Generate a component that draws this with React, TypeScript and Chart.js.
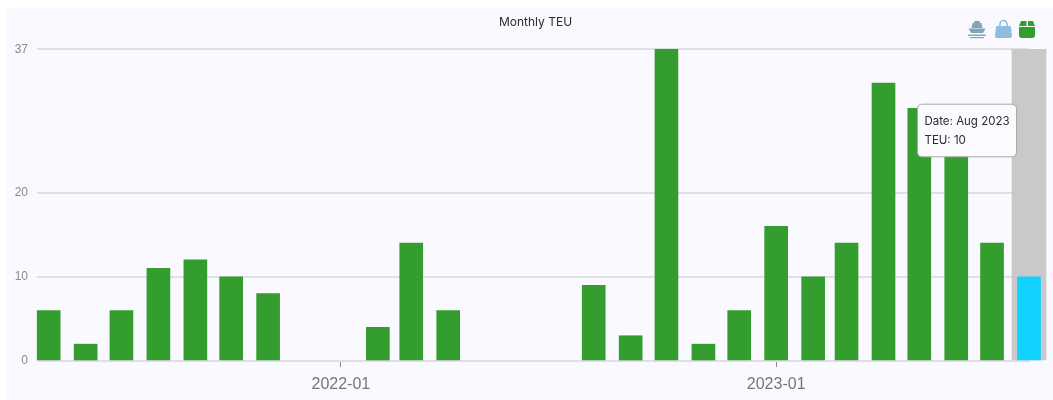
import React, { useEffect, useRef } from "react";
import { Chart, Tooltip, registerables } from "chart.js";

Chart.register(...registerables);

const months = [
  "2021-05-01", "2021-06-01", "2021-07-01", "2021-08-01", "2021-09-01", "2021-10-01", "2021-11-01",
  "2021-12-01", "2022-01-01", "2022-02-01", "2022-03-01", "2022-04-01", "2022-05-01", "2022-06-01",
  "2022-07-01", "2022-08-01", "2022-09-01", "2022-10-01", "2022-11-01", "2022-12-01", "2023-01-01",
  "2023-02-01", "2023-03-01", "2023-04-01", "2023-05-01", "2023-06-01", "2023-07-01", "2023-08-01",
];
const teu = [6, 2, 6, 11, 12, 10, 8, null, null, 4, 14, 6, null, null, null, 9, 3, 37, 2, 6, 16, 10, 14, 33, 30, 26, 14, 10];
const highlightMonth = ["2023-08-01"];
const highlightValue = [37];
const yTicks = [0, 10, 20, 37];
const xTicks = ["2022-01-01", "2023-01-01"];
const DAY = 86400000;
const ts = (s: string) => Date.parse(s + "T00:00:00Z");

(Tooltip.positioners as any).fixedBox = () => ({ x: 967, y: 130.5 });

const panel = {
  id: "panel",
  afterLayout(chart: any) {
    if (chart.titleBlock) chart.titleBlock.left += 5;
  },
  beforeDraw(chart: any) {
    const { ctx, width, height } = chart;
    ctx.save();
    ctx.fillStyle = "#ffffff";
    ctx.fillRect(0, 0, width, height);
    ctx.fillStyle = "#faf9ff";
    ctx.fillRect(6, 8, width - 6, height - 8);
    ctx.restore();
  },
};

export default function App() {
  const ref = useRef<HTMLCanvasElement>(null);
  useEffect(() => {
    const chart: any = new Chart(ref.current!, {
      type: "bar",
      plugins: [panel],
      data: {
        datasets: [
          {
            label: "TEU",
            data: months.map((m, i) => ({ x: ts(m), y: teu[i] })),
            backgroundColor: months.map((m) => (highlightMonth.includes(m) ? "#12d2ff" : "#339d2e")),
            barThickness: 23,
            order: 1,
            clip: false,
            grouped: false,
          },
          {
            label: "Selected",
            data: highlightMonth.map((m, i) => ({ x: ts(m), y: highlightValue[i] })),
            backgroundColor: "#c9c9c9",
            barThickness: 34,
            order: 2,
            clip: false,
            grouped: false,
          },
        ] as any,
      },
      options: {
        responsive: false,
        animation: false,
        layout: { padding: { top: 11, left: 0, right: 24, bottom: 0 } },
        plugins: {
          legend: { display: false },
          title: {
            display: true,
            fullSize: false,
            text: "Monthly TEU",
            color: "#2b2b33",
            font: { family: "Inter", size: 12, weight: "normal" },
            padding: { top: 4, bottom: 20 },
          },
          tooltip: {
            enabled: true,
            position: "fixedBox" as any,
            xAlign: "center",
            yAlign: "center",
            caretSize: 0,
            displayColors: false,
            backgroundColor: "#fbfaff",
            borderColor: "#a8a8a8",
            borderWidth: 1,
            cornerRadius: 5,
            titleColor: "#2b2b33",
            bodyColor: "#2b2b33",
            titleFont: { family: "Inter", size: 11.5, weight: "normal" },
            bodyFont: { family: "Inter", size: 11.5, weight: "normal" },
            titleMarginBottom: 6,
            padding: { top: 10, bottom: 9, left: 7, right: 7 },
            callbacks: {
              title: () => "Date: Aug 2023",
              label: (c: any) => "TEU: " + c.parsed.y,
            },
          },
        },
        scales: {
          x: {
            type: "linear",
            offset: false,
            min: ts(months[0]) - 9.8 * DAY,
            max: ts(months[months.length - 1]),
            afterBuildTicks: (s: any) => {
              s.ticks = xTicks.map((t) => ({ value: ts(t) }));
            },
            afterFit: (s: any) => {
              s.height = 39;
            },
            grid: { offset: false, drawOnChartArea: false, drawTicks: true, tickLength: 6, tickColor: "#8a8a8a" },
            border: { color: "#e0dfe6", width: 1 },
            ticks: {
              autoSkip: false,
              maxRotation: 0,
              color: "#77757c",
              padding: 8,
              font: { family: "Liberation Sans", size: 16 },
              callback: (v: any) => new Date(v).toISOString().slice(0, 7),
            },
          },
          y: {
            type: "linear",
            min: 0,
            max: 37,
            afterBuildTicks: (s: any) => {
              s.ticks = yTicks.map((v) => ({ value: v }));
            },
            afterFit: (s: any) => {
              s.width = 37;
            },
            grid: { color: "#e0dfe6", drawTicks: false, lineWidth: 2 },
            border: { display: false },
            ticks: {
              color: "#8b8990",
              padding: 9,
              font: { family: "Liberation Sans", size: 12 },
              callback: (v: any) => String(v),
            },
          },
        },
      } as any,
    });
    chart.tooltip.setActiveElements([{ datasetIndex: 0, index: months.length - 1 }], { x: 1028, y: 300 });
    chart.update();
    return () => chart.destroy();
  }, []);
  return (
    <div style={{ position: "fixed", left: 0, top: 0, width: 1053, height: 400 }}>
      <canvas ref={ref} width={1053} height={400} style={{ display: "block" }} />
      <svg width={80} height={24} viewBox="0 0 80 24" style={{ position: "absolute", left: 962, top: 18 }}>
        <g fill="#7fa6b6">
          <rect x={12} y={3} width={6} height={2} rx={1} />
          <path d="M10.5 5h9l1 5h-11z" />
          <path d="M6.5 10.5h17l-2.5 4.5H9z" />
          <rect x={6} y={16.5} width={18} height={1.4} />
          <rect x={8} y={19} width={14} height={1.2} />
        </g>
        <g transform="translate(-3 0)">
          <path d="M38 8h13a1 1 0 0 1 1 1l1 9a2 2 0 0 1-2 2H38a2 2 0 0 1-2-2l1-9a1 1 0 0 1 1-1z" fill="#8fbde0" />
          <path d="M41 9V6a3.5 3.5 0 0 1 7 0v3" fill="none" stroke="#8fbde0" strokeWidth={1.6} />
        </g>
        <g fill="#339d2e">
          <path d="M59 3h5.5v5H57z M66 3h5l2 5h-7z" />
          <path d="M57 9h16v8a3 3 0 0 1-3 3H60a3 3 0 0 1-3-3z" />
        </g>
      </svg>
    </div>
  );
}
